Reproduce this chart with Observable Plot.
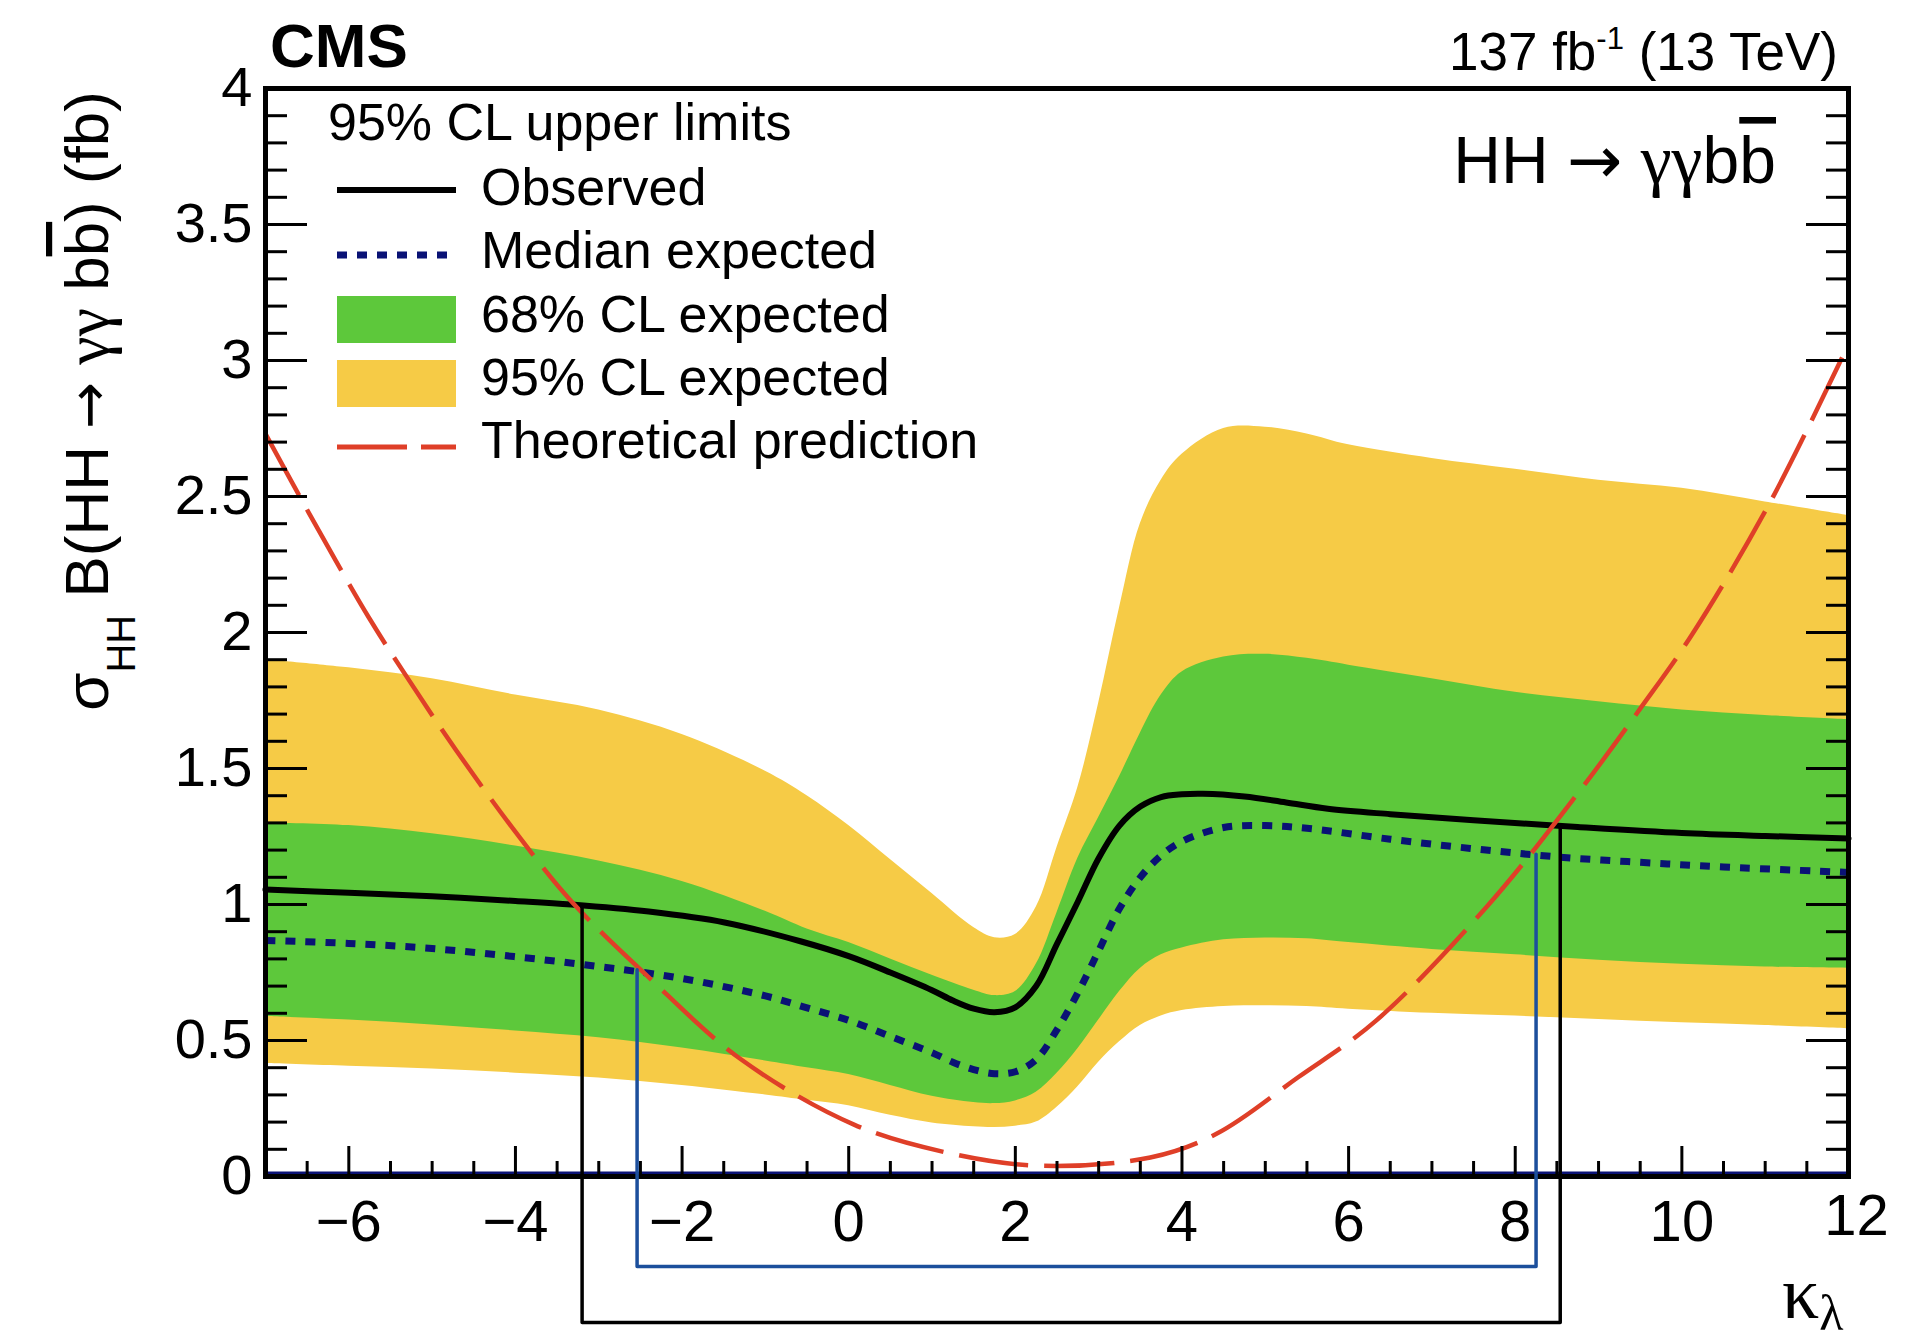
<!DOCTYPE html>
<html>
<head>
<meta charset="utf-8">
<script src="https://cdn.jsdelivr.net/npm/d3@7"></script>
<script src="https://cdn.jsdelivr.net/npm/@observablehq/plot@0.6"></script>
<style>
  html, body { margin: 0; padding: 0; background: #fff; overflow: hidden; }
  #chart svg { display: block; }
</style>
</head>
<body>
<div id="chart"></div>
<script>
// ---- κλ scan: 95% CL upper limits on σ_HH B(HH → γγbb̄), in fb ----

// κλ points shared by the expected bands
const kappaBand = [-7, -6, -5, -4, -3, -2, -1, -0.5, 0, 0.5, 1, 1.5, 1.75, 2, 2.25, 2.5, 2.75, 3, 3.25, 3.5, 3.75, 4, 4.5, 5, 5.5, 6, 7, 8, 9, 10, 11, 12];
const band95Lo  = [0.415, 0.405, 0.395, 0.38, 0.362, 0.335, 0.30, 0.28, 0.26, 0.225, 0.197, 0.183, 0.18, 0.185, 0.20, 0.255, 0.33, 0.42, 0.495, 0.555, 0.59, 0.61, 0.625, 0.628, 0.625, 0.615, 0.60, 0.59, 0.577, 0.565, 0.555, 0.543];
const band68Lo  = [0.588, 0.575, 0.557, 0.535, 0.51, 0.472, 0.425, 0.40, 0.375, 0.335, 0.295, 0.272, 0.268, 0.278, 0.31, 0.38, 0.47, 0.575, 0.68, 0.765, 0.815, 0.84, 0.87, 0.877, 0.874, 0.86, 0.835, 0.815, 0.795, 0.78, 0.77, 0.765];
const band68Hi  = [1.30, 1.29, 1.26, 1.215, 1.16, 1.085, 0.975, 0.91, 0.86, 0.80, 0.74, 0.685, 0.665, 0.68, 0.78, 0.97, 1.17, 1.32, 1.47, 1.63, 1.77, 1.855, 1.91, 1.92, 1.905, 1.88, 1.83, 1.78, 1.745, 1.715, 1.695, 1.68];
const band95Hi  = [1.90, 1.87, 1.83, 1.77, 1.715, 1.625, 1.49, 1.40, 1.29, 1.165, 1.04, 0.915, 0.878, 0.89, 0.99, 1.21, 1.43, 1.74, 2.09, 2.40, 2.56, 2.655, 2.75, 2.755, 2.73, 2.69, 2.64, 2.60, 2.56, 2.53, 2.48, 2.43];

// Observed limit
const kappaObs = [-7, -6, -5, -4, -3.33, -2.4, -1.49, -0.57, 0, 0.5, 1, 1.25, 1.5, 1.75, 2, 2.25, 2.5, 2.75, 3, 3.25, 3.5, 3.75, 4, 4.25, 4.75, 5.25, 5.75, 6.5, 7.5, 8.75, 10, 11, 12];
const observed = [1.055, 1.043, 1.03, 1.013, 1.0, 0.974, 0.934, 0.864, 0.81, 0.75, 0.685, 0.647, 0.617, 0.604, 0.622, 0.70, 0.855, 1.01, 1.17, 1.29, 1.36, 1.395, 1.405, 1.407, 1.397, 1.375, 1.352, 1.332, 1.31, 1.285, 1.263, 1.252, 1.243];

// Median expected limit
const kappaExp = [-7, -6, -5, -4, -3, -2, -1, -0.5, 0, 0.5, 1, 1.25, 1.5, 1.75, 2, 2.25, 2.5, 2.75, 3, 3.25, 3.5, 3.75, 4, 4.5, 5, 5.5, 6.5, 7.5, 8.5, 9.5, 10.5, 12];
const expected = [0.868, 0.857, 0.838, 0.808, 0.772, 0.728, 0.664, 0.62, 0.574, 0.515, 0.455, 0.42, 0.393, 0.378, 0.385, 0.43, 0.54, 0.675, 0.83, 0.985, 1.10, 1.18, 1.232, 1.283, 1.29, 1.28, 1.24, 1.205, 1.175, 1.155, 1.138, 1.118];

// Theoretical prediction
const kappaTheory = [-7, -6.48, -5.76, -5.3, -4.71, -3.97, -3.33, -2.4, -1.29, 0.07, 1.22, 2.27, 3.62, 4.42, 5.39, 6.33, 7.65, 8.75, 9.5, 10.13, 11.07, 12];
const theory      = [2.73, 2.44, 2.055, 1.835, 1.566, 1.255, 1.012, 0.732, 0.43, 0.19, 0.085, 0.04, 0.07, 0.158, 0.364, 0.573, 0.989, 1.408, 1.72, 1.996, 2.485, 3.06];

// Allowed κλ intervals (where the limit crosses the prediction)
const obsInterval = [-3.2, 8.54];
const obsIntervalLimit = [0.99, 1.29];
const expInterval = [-2.54, 8.25];
const expIntervalLimit = [0.76, 1.185];

// Axis ticks
const xTickLabels = [-6, -4, -2, 0, 2, 4, 6, 8, 10, 12];
const yTickLabels = [0, 0.5, 1, 1.5, 2, 2.5, 3, 3.5, 4];

// ---- styling ----
const W = 1905, H = 1343;
const M = {top: 88, right: 57, bottom: 167, left: 265};
const frameW = W - M.left - M.right;
const frameH = H - M.top - M.bottom;
const YELLOW = "#f6cb46", GREEN = "#5dc83b", NAVY = "#0a1275", RED = "#df3f28", BLUE = "#1c4f9c";
const FONT = "'Liberation Sans', Arial, Helvetica, sans-serif";
const SERIF = "'Liberation Serif', 'DejaVu Serif', serif";
const ARROW_FONT = "'DejaVu Sans', sans-serif";
const bracketDepthObs = -0.537;   // bracket feet below the axis, in y units
const bracketDepthExp = -0.331;

const bandRows = kappaBand.map((k, i) => ({k, lo95: band95Lo[i], lo68: band68Lo[i], hi68: band68Hi[i], hi95: band95Hi[i]}));
const obsRows = kappaObs.map((k, i) => ({k, v: observed[i]}));
const expRows = kappaExp.map((k, i) => ({k, v: expected[i]}));
const thRows = kappaTheory.map((k, i) => ({k, v: theory[i]}));

const bracket = (iv, lim, depth) => [
  {k: iv[0], v: lim[0]}, {k: iv[0], v: depth}, {k: iv[1], v: depth}, {k: iv[1], v: lim[1]}
];

const xMajor = d3.range(-6, 12.001, 2);
const xMinor = d3.range(-7, 12.001, 0.5).filter(d => Math.abs(d % 2) > 1e-9);
const yMajor = d3.range(0, 4.001, 0.5);
const yMinor = d3.range(0, 4.001, 0.1).map(d => +d.toFixed(1)).filter(d => Math.abs((d * 2) % 1) > 1e-6);

const fmt = d => (d < 0 ? "\u2212" + (-d) : String(d));

const plot = Plot.plot({
  width: W,
  height: H,
  marginTop: M.top, marginRight: M.right, marginBottom: M.bottom, marginLeft: M.left,
  style: {fontFamily: FONT, background: "white", overflow: "visible"},
  x: {domain: [-7, 12], axis: null},
  y: {domain: [0, 4], axis: null},
  marks: [
    Plot.areaY(bandRows, {x: "k", y1: "lo95", y2: "hi95", fill: YELLOW, curve: "catmull-rom"}),
    Plot.areaY(bandRows, {x: "k", y1: "lo68", y2: "hi68", fill: GREEN, curve: "catmull-rom"}),
    Plot.ruleY([0], {stroke: NAVY, strokeWidth: 3, dy: -3.5}),
    Plot.line(expRows, {x: "k", y: "v", stroke: NAVY, strokeWidth: 7, strokeDasharray: "10,10", strokeLinecap: "butt", curve: "catmull-rom"}),
    Plot.line(obsRows, {x: "k", y: "v", stroke: "black", strokeWidth: 6, curve: "catmull-rom"}),
    Plot.line(thRows, {x: "k", y: "v", stroke: RED, strokeWidth: 4.5, strokeDasharray: "70,16", strokeLinecap: "butt", curve: "catmull-rom"}),
    // ticks pointing into the frame
    Plot.tickX(xMajor, {x: d => d, stroke: "black", strokeWidth: 3, insetTop: frameH - 30}),
    Plot.tickX(xMinor, {x: d => d, stroke: "black", strokeWidth: 3, insetTop: frameH - 15}),
    Plot.tickY(yMajor, {y: d => d, stroke: "black", strokeWidth: 3, insetRight: frameW - 42}),
    Plot.tickY(yMinor, {y: d => d, stroke: "black", strokeWidth: 3, insetRight: frameW - 22}),
    Plot.tickY(yMajor, {y: d => d, stroke: "black", strokeWidth: 3, insetLeft: frameW - 42}),
    Plot.tickY(yMinor, {y: d => d, stroke: "black", strokeWidth: 3, insetLeft: frameW - 22}),
    Plot.frame({stroke: "black", strokeWidth: 5}),
    // tick labels
    Plot.text(xTickLabels.slice(0, -1), {x: d => d, frameAnchor: "bottom", text: fmt, dy: 46, lineAnchor: "middle", fontSize: 58, fill: "black"}),
    Plot.text(xTickLabels.slice(-1), {x: d => d, frameAnchor: "bottom", text: fmt, dx: 8, dy: 40, lineAnchor: "middle", fontSize: 58, fill: "black"}),
    Plot.text(yTickLabels, {y: d => d, frameAnchor: "left", text: fmt, dx: -13, textAnchor: "end", lineAnchor: "middle", fontSize: 56, fill: "black"}),
    // allowed-interval brackets
    Plot.line(bracket(expInterval, expIntervalLimit, bracketDepthExp), {x: "k", y: "v", stroke: BLUE, strokeWidth: 3.5, clip: false}),
    Plot.line(bracket(obsInterval, obsIntervalLimit, bracketDepthObs), {x: "k", y: "v", stroke: "black", strokeWidth: 3.5, clip: false})
  ]
});

document.getElementById("chart").appendChild(plot);

// ---- annotations and legend ----
const svg = d3.select(plot);
const g = svg.append("g").attr("font-family", FONT).attr("fill", "black").attr("text-anchor", "start");

g.append("text").attr("x", 270).attr("y", 67).attr("font-size", 62).attr("font-weight", "bold").text("CMS");

const lumi = g.append("text").attr("x", 1838).attr("y", 70).attr("font-size", 53).attr("text-anchor", "end");
lumi.append("tspan").text("137 fb");
lumi.append("tspan").attr("font-size", 31).attr("dy", -21).text("-1");
lumi.append("tspan").attr("dy", 21).text(" (13 TeV)");

// decay-channel label: HH → γγbb̄
const proc = g.append("text").attr("x", 1776).attr("y", 183).attr("font-size", 66).attr("text-anchor", "end");
proc.append("tspan").text("HH ");
proc.append("tspan").attr("font-family", ARROW_FONT).attr("font-size", 66).text("\u2192");
proc.append("tspan").text(" ");
proc.append("tspan").attr("font-family", SERIF).attr("font-size", 70).text("\u03b3\u03b3");
proc.append("tspan").text("b");
proc.append("tspan").attr("text-decoration", "overline").text("b");

// y-axis title
const ytitle = g.append("text").attr("transform", "translate(108,91) rotate(-90)").attr("text-anchor", "end").attr("font-size", 62);
ytitle.append("tspan").text("\u03c3");
ytitle.append("tspan").attr("font-size", 40).attr("dy", 27).text("HH");
ytitle.append("tspan").attr("dy", -27).text(" B(HH ");
ytitle.append("tspan").attr("font-family", ARROW_FONT).attr("font-size", 56).text("\u2192");
ytitle.append("tspan").text(" ");
ytitle.append("tspan").attr("font-family", SERIF).attr("font-size", 64).text("\u03b3\u03b3");
ytitle.append("tspan").text(" b");
ytitle.append("tspan").attr("text-decoration", "overline").text("b");
ytitle.append("tspan").text(") (fb)");

// x-axis title
const xtitle = g.append("text").attr("x", 1782).attr("y", 1318).attr("font-family", SERIF).attr("font-size", 74);
xtitle.append("tspan").text("\u03ba");
xtitle.append("tspan").attr("font-size", 50).attr("dy", 12).text("\u03bb");

// legend
const leg = g.append("g");
const legFont = 52;
leg.append("text").attr("x", 328).attr("y", 140).attr("font-size", legFont).text("95% CL upper limits");
const entries = [
  {label: "Observed", type: "line", stroke: "black", width: 6, dash: null, y: 190, base: 205},
  {label: "Median expected", type: "line", stroke: NAVY, width: 7, dash: "10,10", y: 255, base: 268},
  {label: "68% CL expected", type: "box", fill: GREEN, y: 296, base: 332},
  {label: "95% CL expected", type: "box", fill: YELLOW, y: 360, base: 395},
  {label: "Theoretical prediction", type: "line", stroke: RED, width: 5, dash: "70,14", y: 447, base: 458}
];
for (const e of entries) {
  if (e.type === "line") {
    leg.append("line").attr("x1", 337).attr("x2", 456).attr("y1", e.y).attr("y2", e.y)
      .attr("stroke", e.stroke).attr("stroke-width", e.width).attr("stroke-dasharray", e.dash);
  } else {
    leg.append("rect").attr("x", 337).attr("y", e.y).attr("width", 119).attr("height", 47).attr("fill", e.fill);
  }
  leg.append("text").attr("x", 481).attr("y", e.base).attr("font-size", legFont).text(e.label);
}
</script>
</body>
</html>
